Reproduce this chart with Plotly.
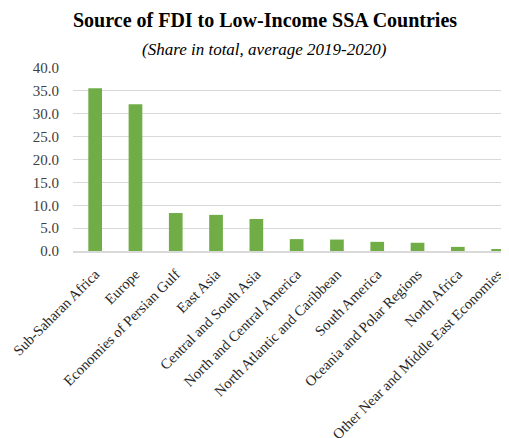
import plotly.graph_objects as go

categories = ["Sub-Saharan Africa", "Europe", "Economies of Persian Gulf", "East Asia",
              "Central and South Asia", "North and Central America",
              "North Atlantic and Caribbean", "South America", "Oceania and Polar Regions",
              "North Africa", "Other Near and Middle East Economies"]
values = [35.6, 32.1, 8.3, 7.9, 7.0, 2.6, 2.5, 2.0, 1.8, 0.9, 0.3]
yticks = [0, 5, 10, 15, 20, 25, 30, 35, 40]
ytick_labels = [f"{v:.1f}" for v in yticks]

FONT = "Liberation Serif, Times New Roman, serif"

fig = go.Figure(go.Bar(x=categories, y=values, marker_color="#70AD47",
                       marker_line_width=0, width=0.34))

# page body has an 8px margin, so the figure is sized to fill the rest of the window
fig.update_layout(
    width=501, height=430,
    margin=dict(l=65, r=0, t=60, b=187, autoexpand=False),
    plot_bgcolor="white", paper_bgcolor="white",
    font=dict(family=FONT, size=14, color="#404040"),
    showlegend=False,
    annotations=[
        dict(text="<b>Source of FDI to Low-Income SSA Countries</b>", x=0.44, y=1.263,
             xref="paper", yref="paper", xanchor="center", yanchor="middle",
             showarrow=False, font=dict(family=FONT, size=20, color="black")),
        dict(text="<i>(Share in total, average 2019-2020)</i>", x=0.44, y=1.0985,
             xref="paper", yref="paper", xanchor="center", yanchor="middle",
             showarrow=False, font=dict(family=FONT, size=17, color="black")),
    ],
)
fig.update_yaxes(range=[0, 40], tickvals=yticks, ticktext=ytick_labels, automargin=False,
                 showgrid=True, gridcolor="#D9D9D9", gridwidth=1, zeroline=False,
                 ticks="outside", ticklen=10, tickcolor="rgba(0,0,0,0)",
                 tickfont=dict(family=FONT, size=15, color="#404040"))
fig.update_xaxes(range=[-0.55, 10.27], tickangle=-45, showline=True, automargin=False,
                 linecolor="#D9D9D9", linewidth=2,
                 ticks="outside", ticklen=7, tickcolor="rgba(0,0,0,0)",
                 tickfont=dict(family=FONT, size=14.6, color="#262626"))

fig.write_html("out.html")
